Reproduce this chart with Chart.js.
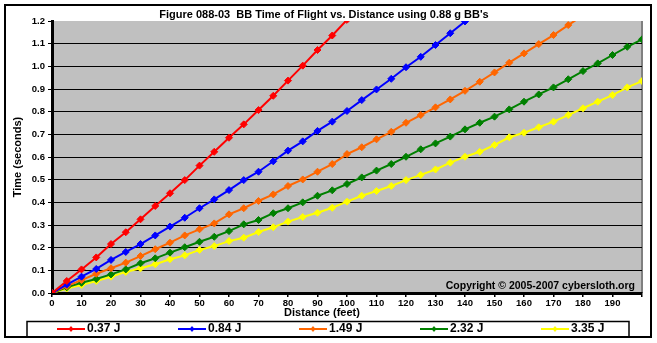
<!DOCTYPE html>
<html>
<head>
<meta charset="utf-8">
<script src="https://cdn.jsdelivr.net/npm/chart.js@4"></script>
<style>
  html, body { margin: 0; padding: 0; background: #fff; }
  #wrap { width: 657px; height: 343px; }
</style>
</head>
<body>
<div id="wrap"><canvas id="chart" width="657" height="343"></canvas></div>
<script>
// distance in feet
const distances = [0, 5, 10, 15, 20, 25, 30, 35, 40, 45, 50, 55, 60, 65, 70, 75, 80, 85, 90, 95,
    100, 105, 110, 115, 120, 125, 130, 135, 140, 145, 150, 155, 160, 165, 170, 175, 180, 185, 190, 195, 200];

// time of flight (seconds) for each muzzle energy
const t037 = [0, 0.053, 0.104, 0.157, 0.216, 0.268, 0.325, 0.384, 0.44, 0.498, 0.562, 0.623, 0.685,
    0.744, 0.807, 0.87, 0.937, 1.003, 1.072, 1.136, 1.205];
const t084 = [0, 0.037, 0.072, 0.106, 0.146, 0.181, 0.216, 0.254, 0.293, 0.332, 0.374, 0.413, 0.454,
    0.498, 0.535, 0.581, 0.628, 0.669, 0.715, 0.756, 0.803, 0.851, 0.898, 0.945, 0.996, 1.042, 1.094,
    1.146, 1.198, 1.25];
const t149 = [0, 0.03, 0.057, 0.085, 0.109, 0.134, 0.163, 0.193, 0.222, 0.254, 0.281, 0.307, 0.347,
    0.374, 0.406, 0.435, 0.472, 0.501, 0.535, 0.569, 0.613, 0.643, 0.678, 0.711, 0.751, 0.785, 0.819,
    0.854, 0.892, 0.932, 0.973, 1.016, 1.057, 1.098, 1.138, 1.182, 1.225];
const t232 = [0, 0.025, 0.045, 0.062, 0.082, 0.104, 0.131, 0.153, 0.178, 0.202, 0.226, 0.248, 0.273,
    0.303, 0.322, 0.352, 0.374, 0.4, 0.429, 0.453, 0.481, 0.51, 0.54, 0.569, 0.601, 0.634, 0.66, 0.69,
    0.722, 0.751, 0.778, 0.81, 0.844, 0.876, 0.907, 0.943, 0.979, 1.013, 1.05, 1.086, 1.119];
const t335 = [0, 0.02, 0.035, 0.053, 0.072, 0.093, 0.109, 0.127, 0.149, 0.166, 0.19, 0.207, 0.229,
    0.244, 0.269, 0.29, 0.315, 0.335, 0.354, 0.376, 0.403, 0.429, 0.45, 0.472, 0.498, 0.521, 0.545,
    0.575, 0.601, 0.623, 0.653, 0.687, 0.707, 0.731, 0.756, 0.785, 0.815, 0.844, 0.873, 0.907, 0.935];

const seriesLabels = ['0.37 J', '0.84 J', '1.49 J', '2.32 J', '3.35 J'];
const seriesValues = [t037, t084, t149, t232, t335];
const seriesColors = ['#FF0000', '#0000FF', '#FF6600', '#008000', '#FFFF00'];

function toPoints(values) {
    let pts = [];
    for (let i = 0; i < values.length; i++)
        pts.push({x: distances[i], y: values[i]});
    return pts;
}

const boldFont = '"Liberation Sans", Arial, sans-serif';

const decorations = {
    id: 'decorations',
    beforeDraw(chart) {
        const ctx = chart.ctx;
        const a = chart.chartArea;
        ctx.save();
        ctx.fillStyle = '#fff';
        ctx.fillRect(0, 0, chart.width, chart.height);
        ctx.fillStyle = '#C0C0C0';
        ctx.fillRect(a.left, a.top, a.right - a.left, a.bottom - a.top);
        ctx.strokeStyle = '#808080';
        ctx.lineWidth = 2;
        ctx.beginPath();
        ctx.moveTo(a.right, a.top);
        ctx.lineTo(a.right, a.bottom);
        ctx.stroke();
        ctx.restore();
    },
    afterDraw(chart) {
        const ctx = chart.ctx;
        const a = chart.chartArea;
        ctx.save();
        // outer frame
        ctx.strokeStyle = '#000';
        ctx.lineWidth = 2;
        ctx.strokeRect(5, 5, 646, 332);

        ctx.fillStyle = '#000';
        ctx.textBaseline = 'middle';
        ctx.textAlign = 'center';
        ctx.font = 'bold 11px ' + boldFont;
        ctx.fillText("Figure 088-03  BB Time of Flight vs. Distance using 0.88 g BB's", 324, 15);
        ctx.fillText('Distance (feet)', 322, 313);

        ctx.save();
        ctx.translate(18, (a.top + a.bottom) / 2);
        ctx.rotate(-Math.PI / 2);
        ctx.fillText('Time (seconds)', 0, 0);
        ctx.restore();

        ctx.textAlign = 'right';
        ctx.font = 'bold 10.5px ' + boldFont;
        ctx.fillText('Copyright \u00A9 2005-2007 cybersloth.org', 635, 286);

        // legend
        ctx.lineWidth = 1.5;
        ctx.strokeRect(27, 321.5, 602, 15.5);
        ctx.textAlign = 'left';
        ctx.font = 'bold 12px "Liberation Sans Narrow", "Liberation Sans", Arial, sans-serif';
        for (let i = 0; i < seriesLabels.length; i++) {
            let x0 = 57 + i * 121;
            let y0 = 329;
            ctx.strokeStyle = seriesColors[i];
            ctx.lineWidth = 2;
            ctx.beginPath();
            ctx.moveTo(x0, y0);
            ctx.lineTo(x0 + 28, y0);
            ctx.stroke();
            ctx.fillStyle = seriesColors[i];
            ctx.beginPath();
            ctx.moveTo(x0 + 14, y0 - 3);
            ctx.lineTo(x0 + 16.5, y0);
            ctx.lineTo(x0 + 14, y0 + 3);
            ctx.lineTo(x0 + 11.5, y0);
            ctx.closePath();
            ctx.fill();
            ctx.fillStyle = '#000';
            ctx.fillText(seriesLabels[i], x0 + 30, y0);
        }
        ctx.restore();
    }
};

const datasets = [];
for (let i = 0; i < seriesLabels.length; i++) {
    datasets.push({
        label: seriesLabels[i],
        data: toPoints(seriesValues[i]),
        borderColor: seriesColors[i],
        backgroundColor: seriesColors[i],
        borderWidth: 2,
        pointStyle: 'rectRot',
        pointRadius: 3.5,
        pointBorderWidth: 1,
        tension: 0
    });
}

const config = {
    type: 'line',
    data: {datasets: datasets},
    options: {
        responsive: false,
        animation: false,
        layout: {padding: {left: 5, top: 21, right: 15, bottom: 30}},
        plugins: {
            legend: {display: false},
            tooltip: {enabled: false},
            title: {display: false}
        },
        scales: {
            x: {
                type: 'linear',
                min: 0,
                max: 200,
                afterFit(scale) { scale.height = 20; },
                ticks: {
                    stepSize: 10,
                    color: '#000',
                    padding: 1,
                    maxRotation: 0,
                    font: {family: boldFont, size: 9.5, weight: 'bold'},
                    callback: (v) => v >= 200 ? '' : v
                },
                grid: {drawOnChartArea: false, drawTicks: true, tickLength: 4, color: '#000', lineWidth: 1.5},
                border: {display: true, color: '#000', width: 3}
            },
            y: {
                min: 0,
                max: 1.2,
                afterFit(scale) { scale.width = 47; },
                ticks: {
                    stepSize: 0.1,
                    color: '#000',
                    padding: 3,
                    font: {family: boldFont, size: 9.5, weight: 'bold'},
                    callback: (v) => v.toFixed(1)
                },
                grid: {
                    color: (c) => (c.tick && c.tick.value >= 1.2) ? 'rgba(0,0,0,0)' : '#000',
                    tickColor: '#000',
                    lineWidth: 1,
                    tickLength: 4
                },
                border: {display: true, color: '#000', width: 3}
            }
        }
    },
    plugins: [decorations]
};

new Chart(document.getElementById('chart').getContext('2d'), config);
</script>
</body>
</html>
